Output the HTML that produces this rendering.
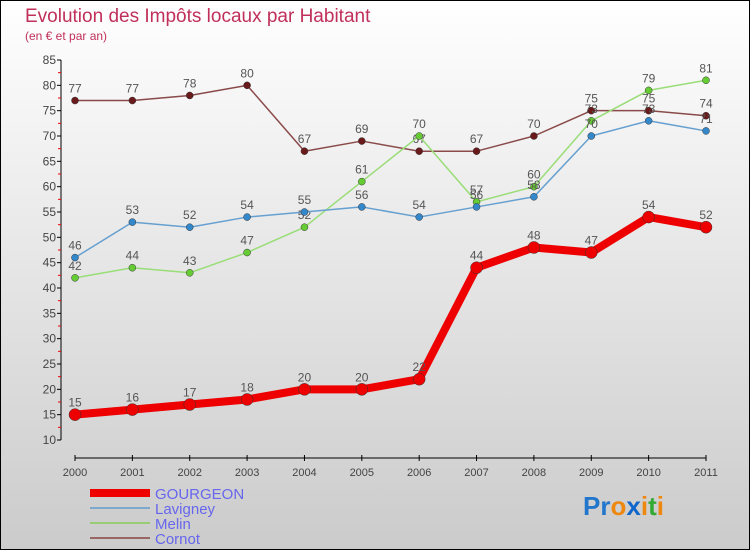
<!DOCTYPE html>
<html><head><meta charset="utf-8"><style>
body{margin:0}
#c{width:750px;height:550px;position:relative;font-family:"Liberation Sans",sans-serif}
</style></head><body>
<div id="c">
<svg id="s" width="750" height="550" xmlns="http://www.w3.org/2000/svg">
<defs><linearGradient id="bg" x1="0" y1="0" x2="0" y2="1"><stop offset="0" stop-color="#ffffff"/><stop offset="1" stop-color="#cbcbcb"/></linearGradient></defs>
<rect x="0.5" y="0.5" width="749" height="549" fill="url(#bg)" stroke="#000"/>
<text x="25" y="22" font-size="19" fill="#c0305a">Evolution des Impôts locaux par Habitant</text>
<text x="25" y="40" font-size="12" fill="#c0305a">(en € et par an)</text>
<g id="axes"></g><g id="series"></g>
<g>
<rect x="90" y="489" width="60" height="8" fill="#e00"/>
<text x="155" y="499" font-size="15" fill="#6666ee">GOURGEON</text>
<line x1="90" y1="508" x2="150" y2="508" stroke="#7fa9cc" stroke-width="2"/>
<text x="155" y="514" font-size="15" fill="#6666ee">Lavigney</text>
<line x1="90" y1="523" x2="150" y2="523" stroke="#99cc77" stroke-width="2"/>
<text x="155" y="529" font-size="15" fill="#6666ee">Melin</text>
<line x1="90" y1="538" x2="150" y2="538" stroke="#996666" stroke-width="2"/>
<text x="155" y="544" font-size="15" fill="#6666ee">Cornot</text>
</g>
<text x="583" y="515" font-size="26" font-weight="bold"><tspan fill="#2277cc">Pr</tspan><tspan fill="#ee8811">o</tspan><tspan fill="#1166cc">x</tspan><tspan fill="#ee8811">i</tspan><tspan fill="#33aa33">t</tspan><tspan fill="#ee8811">i</tspan></text>
</svg></div>
<script>
const years=["2000","2001","2002","2003","2004","2005","2006","2007","2008","2009","2010","2011"];
const yTicks=[10,15,20,25,30,35,40,45,50,55,60,65,70,75,80,85];
const gourgeon=[15,16,17,18,20,20,22,44,48,47,54,52];
const lavigney=[46,53,52,54,55,56,54,56,58,70,73,71];
const melin=[42,44,43,47,52,61,70,57,60,73,79,81];
const cornot=[77,77,78,80,67,69,67,67,70,75,75,74];
const NS="http://www.w3.org/2000/svg";
const X=i=>75+i*(706-75)/11;
const Y=v=>440-(v-10)*(380/75);
function mk(t,a,p){const e=document.createElementNS(NS,t);for(const k in a)e.setAttribute(k,a[k]);p.appendChild(e);return e;}
const ax=document.getElementById('axes');
const yl=mk('line',{x1:61,y1:60,x2:61,y2:440,stroke:'#000'},ax);


const xl=mk('line',{x1:75,y1:458,x2:706,y2:458,stroke:'#000'},ax);


yTicks.forEach(v=>{
 mk('line',{x1:57,y1:Y(v),x2:61,y2:Y(v),stroke:'#000'},ax);
 if(v<85)mk('line',{x1:58,y1:Y(v+2.5),x2:61,y2:Y(v+2.5),stroke:'#e00'},ax);
 const t=mk('text',{x:56,y:Y(v)+4,'font-size':12,fill:'#444','text-anchor':'end'},ax);t.textContent=v;
 
 
});
years.forEach((y,i)=>{
 mk('line',{x1:X(i),y1:455,x2:X(i),y2:461,stroke:'#000'},ax);
 const t=mk('text',{x:X(i),y:476,'font-size':11,fill:'#444','text-anchor':'middle'},ax);t.textContent=y;
 
 
});
const sg=document.getElementById('series');
function series(name,data,color,dot,w,r){
 const g=mk('g',{},sg);
 
 
 mk('polyline',{points:data.map((v,i)=>X(i)+','+Y(v)).join(' '),fill:'none',stroke:color,'stroke-width':w,'stroke-linejoin':'round'},g);
 data.forEach((v,i)=>{
  const c=mk('circle',{cx:X(i),cy:Y(v),r:r,fill:dot,stroke:'#333','stroke-width':0.5},g);
  
  
  const t=mk('text',{x:X(i),y:Y(v)-8,'font-size':12,fill:'#555','text-anchor':'middle'},g);t.textContent=v;
  
  
 });
}
series('cornot',cornot,'#8a4a4a','#6a1a1a',1.5,3.5);
series('melin',melin,'#99dd77','#66cc33',1.5,3.5);
series('lavigney',lavigney,'#66a0d0','#3388cc',1.5,3.5);
series('gourgeon',gourgeon,'#ee0000','#ee0000',8,6);
</script>
</body></html>
